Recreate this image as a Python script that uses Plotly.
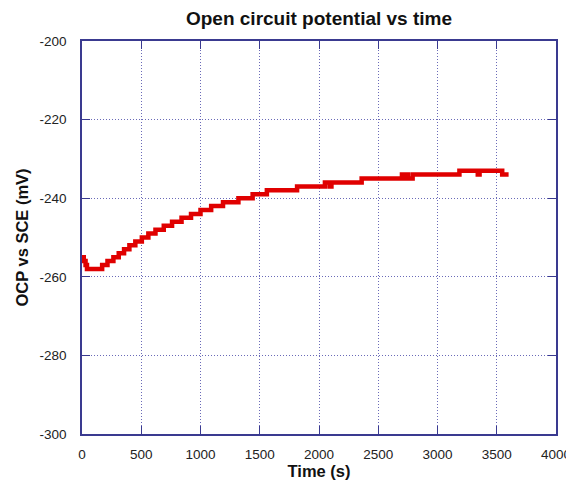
import plotly.graph_objects as go

# Step-change points of the OCP record (time in s, potential in mV)
time_s = [0, 15, 30, 42, 170, 215, 265, 310, 355, 400, 450, 505, 560, 620, 690,
          760, 840, 920, 1000, 1090, 1190, 1320, 1440, 1560, 1815, 2050, 2090,
          2105, 2360, 2700, 2715, 2735, 2750, 2790, 3185, 3340, 3355, 3546, 3600]
ocp_mv = [-255, -256, -257, -258, -257, -256, -255, -254, -253, -252, -251, -250,
          -249, -248, -247, -246, -245, -244, -243, -242, -241, -240, -239, -238,
          -237, -236, -237, -236, -235, -234, -235, -234, -235, -234, -233, -234,
          -233, -234, -234]

x_ticks = [0, 500, 1000, 1500, 2000, 2500, 3000, 3500, 4000]
x_labels = ["0", "500", "1000", "1500", "2000", "2500", "3000", "3500", "4000"]
y_ticks = [-300, -280, -260, -240, -220, -200]
y_labels = ["-300", "-280", "-260", "-240", "-220", "-200"]

axis_col = "#3a3a90"
grid_col = "#6a6ab8"
font_fam = "Liberation Sans, Arial"

fig = go.Figure()
fig.add_trace(go.Scatter(
    x=time_s, y=ocp_mv, mode="lines", line_shape="hv",
    line=dict(color="#e00000", width=4.5), showlegend=False))

common = dict(showline=True, linecolor=axis_col, linewidth=1.5, mirror="ticks",
              ticks="inside", ticklen=8, tickcolor=axis_col, tickwidth=1,
              showgrid=True, gridcolor=grid_col, griddash="1px,2px", gridwidth=1,
              zeroline=False, automargin=False,
              tickfont=dict(family=font_fam, size=13.5, color="#222"))

fig.update_xaxes(range=[0, 4000], tickvals=x_ticks, ticktext=x_labels, ticklabelstandoff=7,
                 title=dict(text="<b>Time (s)</b>", font=dict(family=font_fam, size=16.5, color="#111"), standoff=1),
                 **common)
fig.update_yaxes(range=[-300, -200], tickvals=y_ticks, ticktext=y_labels, ticklabelstandoff=11,
                 title=dict(text="<b>OCP vs SCE (mV)</b>", font=dict(family=font_fam, size=16.5, color="#111"), standoff=7),
                 **common)

fig.update_layout(
    width=566, height=493,
    margin=dict(l=74, r=18, t=33, b=67, autoexpand=False),
    paper_bgcolor="white", plot_bgcolor="white",
    title=dict(text="<b>Open circuit potential vs time</b>", x=0.5, xanchor="center",
               xref="paper", y=0.98, yanchor="middle",
               font=dict(family=font_fam, size=19, color="#111")),
)

fig.write_html("out.html")
